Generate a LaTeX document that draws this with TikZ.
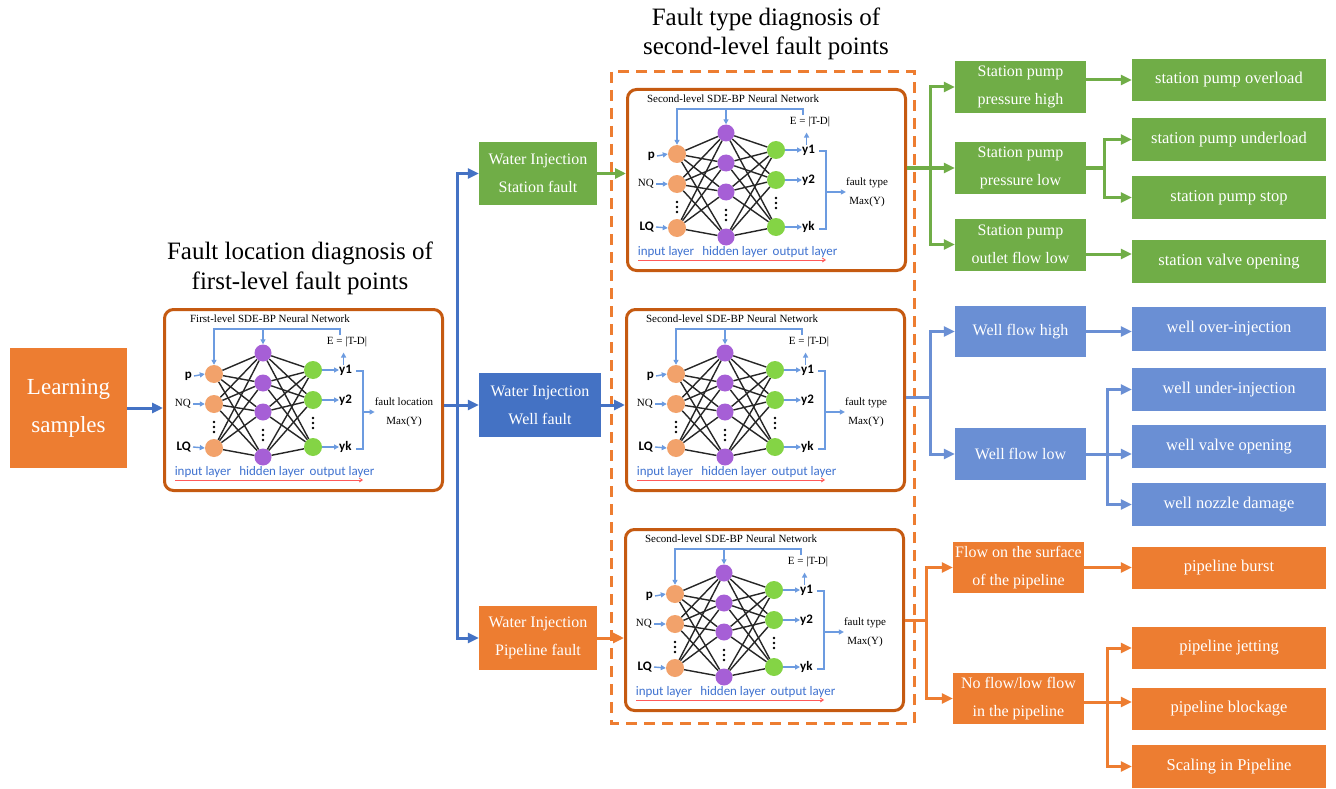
\documentclass[tikz,border=0pt]{standalone}
\usepackage{fontspec}
\setmainfont{Liberation Serif}
\newfontfamily\carl{Carlito}
\usetikzlibrary{arrows.meta}
\definecolor{cOr}{HTML}{ED7D31}
\definecolor{cGr}{HTML}{70AD47}
\definecolor{cBl}{HTML}{4472C4}
\definecolor{cLb}{HTML}{6A8FD4}
\definecolor{cBr}{HTML}{C55A11}
\definecolor{cIn}{HTML}{F2A26B}
\definecolor{cHi}{HTML}{A65FD6}
\definecolor{cOu}{HTML}{84D445}
\definecolor{cFb}{HTML}{6C9BE0}
\definecolor{cLy}{HTML}{3F72D0}
\definecolor{cRd}{HTML}{FF5A5A}
\tikzset{
  fbox/.style={fill=#1, text=white, align=center, inner sep=0pt, font=\fontsize{16}{28}\selectfont},
  rbox/.style={fill=#1, text=white, align=center, inner sep=0pt, font=\fontsize{16.5}{28}\selectfont, minimum width=194pt},
  ln/.style={draw=#1, line width=3pt},
  tip/.style={-{Triangle[length=11pt,width=10pt]}},
  tips/.style={{Triangle[length=11pt,width=10pt]}-{Triangle[length=11pt,width=10pt]}},
  nnframe/.style={draw=cBr, line width=3pt, rounded corners=9pt, fill=white},
  inn/.style={circle, inner sep=0pt, minimum size=18pt, fill=cIn},
  hid/.style={circle, inner sep=0pt, minimum size=17pt, fill=cHi},
  outn/.style={circle, inner sep=0pt, minimum size=18pt, fill=cOu},
  conn/.style={draw=black!85, line width=1.4pt},
  fb/.style={draw=cFb, line width=1.4pt},
  fbtip/.style={-{Triangle[length=5pt,width=5pt]}},
  small/.style={font=\fontsize{11}{19}\selectfont, inner sep=0pt, align=center},
  sanslab/.style={font=\carl\bfseries\fontsize{13}{15}\selectfont, inner sep=0pt},
  layer/.style={font=\carl\fontsize{13}{15}\selectfont, text=cLy, inner sep=0pt},
  pics/nn/.style 2 args={code={
    \node[nnframe, anchor=north west, minimum width=278pt, minimum height=181pt] (-box) at (0,0) {};
    \node[small] (-tt) at (107,11) {#1};
    \node[inn] (-in1) at (51,66) {};
    \node[inn] (-in2) at (51,96) {};
    \node[inn] (-in3) at (51,140) {};
    \node[hid] (-h1) at (100,45) {};
    \node[hid] (-h2) at (100,75) {};
    \node[hid] (-h3) at (100,104) {};
    \node[hid] (-h4) at (100,149) {};
    \node[outn] (-o1) at (150,62) {};
    \node[outn] (-o2) at (150,92) {};
    \node[outn] (-o3) at (150,139) {};
    \foreach \d in {-5,0,5} {
      \fill (51,119+\d) circle (1.4pt);
      \fill (100,127+\d) circle (1.4pt);
      \fill (150,115+\d) circle (1.4pt);
    }
    \foreach \i in {1,2,3} \foreach \j in {1,2,3,4} \draw[conn] (-in\i) -- (-h\j);
    \foreach \j in {1,2,3,4} \foreach \k in {1,2,3} \draw[conn] (-h\j) -- (-o\k);
    \node[sanslab, anchor=east] (-lp) at (29,68) {p};
    \node[small, anchor=east] (-lnq) at (28,96) {NQ};
    \node[sanslab, anchor=east] (-llq) at (28,139) {LQ};
    \draw[fb, fbtip] (-lp.east) ++(2pt,0) -- (-in1.west);
    \draw[fb, fbtip] (-lnq.east) ++(2pt,0) -- (-in2.west);
    \draw[fb, fbtip] (-llq.east) ++(2pt,0) -- (-in3.west);
    \node[sanslab, anchor=west] (-y1) at (176,62) {y1};
    \node[sanslab, anchor=west] (-y2) at (176,92) {y2};
    \node[sanslab, anchor=west] (-y3) at (176,139) {yk};
    \draw[fb, fbtip] (-o1.east) -- (-y1.west);
    \draw[fb, fbtip] (-o2.east) -- (-y2.west);
    \draw[fb, fbtip] (-o3.east) -- (-y3.west);
    \node[small] (-E) at (184,34) {E = |T-D|};
    \coordinate (-f1) at (177,27);
    \coordinate (-f2) at (177,21);
    \coordinate (-f3) at (51,21);
    \coordinate (-f4) at (100,21);
    \draw[fb, fbtip] (-f1) -- (-f2) -- (-f3) -- (-in1.north);
    \draw[fb, fbtip] (-f4) -- (-h1.north);
    \draw[fb, fbtip] (-y1.north) ++(-2pt,0) -- ++(0,-12);
    \coordinate (-b1) at (193,63);
    \coordinate (-b2) at (200,63);
    \coordinate (-b3) at (200,141);
    \coordinate (-b4) at (193,141);
    \coordinate (-bm) at (200,104);
    \draw[fb] (-b1) -- (-b2) -- (-b3) -- (-b4);
    \node[small] (-res) at (241,104) {#2\\Max(Y)};
    \draw[fb, fbtip] (-bm) -- (-res.west |- -bm);
    \node[layer] (-l1) at (40,164) {input layer};
    \node[layer] (-l2) at (109,164) {hidden layer};
    \node[layer] (-l3) at (179,164) {output layer};
    \coordinate (-u1) at (12,172);
    \coordinate (-u2) at (200,172);
    \draw[cRd, line width=0.9pt, -{Straight Barb[length=3pt,width=4pt]}] (-u1) -- (-u2);
  }}
}
\begin{document}
\begin{tikzpicture}[x=1pt, y=-1pt]
\useasboundingbox (0,0) rectangle (1336,789);
\fill[white] (0,0) rectangle (1336,789);

% titles
\node[align=center, font=\fontsize{25}{30}\selectfont, inner sep=0pt] (t1) at (300,268) {Fault location diagnosis of\\first-level fault points};
\node[align=center, font=\fontsize{25}{29}\selectfont, inner sep=0pt] (t2) at (766,34) {Fault type diagnosis of\\second-level fault points};

% dashed frame
\draw[cOr, line width=3pt, dash pattern=on 11pt off 7pt] (611,72) rectangle (914,723);

% learning samples
\node[fbox=cOr, minimum width=117pt, minimum height=120pt, font=\fontsize{23}{38}\selectfont] (learn) at (68.5,408) {Learning\\samples};

% networks
\pic (A) at (163,308) {nn={First-level SDE-BP Neural Network}{fault location}};
\pic (B) at (626,88) {nn={Second-level SDE-BP Neural Network}{fault type}};
\pic (C) at (625,308) {nn={Second-level SDE-BP Neural Network}{fault type}};
\pic (D) at (624,528) {nn={Second-level SDE-BP Neural Network}{fault type}};

% first-level outputs
\node[fbox=cGr, minimum width=118pt, minimum height=63pt] (ws) at (538,173.5) {Water Injection\\Station fault};
\node[fbox=cBl, minimum width=122pt, minimum height=64pt] (ww) at (540,405) {Water Injection\\Well fault};
\node[fbox=cOr, minimum width=118pt, minimum height=64pt] (wp) at (538,638) {Water Injection\\Pipeline fault};

\draw[ln=cBl, tip] (learn.east) -- (A-box.west |- learn.east);
\coordinate (j1) at (457,405);
\draw[ln=cBl, tip] (A-box.east |- ww.west) -- (ww.west);
\draw[ln=cBl, tips] (ws.west) -| (j1) |- (wp.west);

\draw[ln=cGr, tip] (ws.east) -- (B-box.west |- ws.east);
\draw[ln=cBl, tip] (ww.east) -- (C-box.west |- ww.east);
\draw[ln=cOr, tip] (wp.east) -- (D-box.west |- wp.east);

% green branch
\node[fbox=cGr, minimum width=131pt, minimum height=52pt] (g1) at (1020.5,87) {Station pump\\pressure high};
\node[fbox=cGr, minimum width=131pt, minimum height=52pt] (g2) at (1020.5,168) {Station pump\\pressure low};
\node[fbox=cGr, minimum width=131pt, minimum height=52pt] (g3) at (1020.5,244.5) {Station pump\\outlet flow low};
\node[rbox=cGr, minimum height=42pt] (r1) at (1229,80) {station pump overload};
\node[rbox=cGr, minimum height=43pt] (r2) at (1229,139.5) {station pump underload};
\node[rbox=cGr, minimum height=43pt] (r3) at (1229,197.5) {station pump stop};
\node[rbox=cGr, minimum height=43pt] (r4) at (1229,261.5) {station valve opening};
\coordinate (gj) at (930,168);
\draw[ln=cGr] (B-box.east |- gj) -- (gj);
\draw[ln=cGr, tip] (gj) -- (g2.west);
\draw[ln=cGr, tips] (g1.west) -| (gj) |- (g3.west);
\draw[ln=cGr, tip] (g1.east |- r1.west) -- (r1.west);
\coordinate (gk) at (1104,168);
\draw[ln=cGr] (g2.east) -- (gk);
\draw[ln=cGr, tips] (r2.west) -| (gk) |- (r3.west);
\coordinate (gm) at (1086,254);
\draw[ln=cGr, tip] (gm) -- (r4.west |- gm);

% blue branch
\node[fbox=cLb, minimum width=131pt, minimum height=51pt] (b1) at (1020.5,331.5) {Well flow high};
\node[fbox=cLb, minimum width=131pt, minimum height=52pt] (b2) at (1020.5,454) {Well flow low};
\node[rbox=cLb, minimum height=44pt] (s1) at (1229,329) {well over-injection};
\node[rbox=cLb, minimum height=43pt] (s2) at (1229,389.5) {well under-injection};
\node[rbox=cLb, minimum height=43pt] (s3) at (1229,446.5) {well valve opening};
\node[rbox=cLb, minimum height=43pt] (s4) at (1229,504.5) {well nozzle damage};
\coordinate (bj) at (930,397);
\draw[ln=cLb] (C-box.east |- bj) -- (bj);
\draw[ln=cLb, tips] (b1.west) -| (bj) |- (b2.west);
\draw[ln=cLb, tip] (b1.east) -- (s1.west |- b1.east);
\coordinate (bk) at (1107,454);
\draw[ln=cLb, tip] (b2.east) -- (s3.west |- b2.east);
\draw[ln=cLb, tips] (s2.west) -| (bk) |- (s4.west);

% orange branch
\node[fbox=cOr, minimum width=131pt, minimum height=51pt] (o1) at (1018.5,567.5) {Flow on the surface\\of the pipeline};
\node[fbox=cOr, minimum width=131pt, minimum height=51pt] (o2) at (1018.5,698.5) {No flow/low flow\\in the pipeline};
\node[rbox=cOr, minimum height=42pt] (p1) at (1229,568) {pipeline burst};
\node[rbox=cOr, minimum height=42pt] (p2) at (1229,648) {pipeline jetting};
\node[rbox=cOr, minimum height=42pt] (p3) at (1229,709) {pipeline blockage};
\node[rbox=cOr, minimum height=43pt] (p4) at (1229,766.5) {Scaling in Pipeline};
\coordinate (oj) at (926,620);
\draw[ln=cOr] (D-box.east |- oj) -- (oj);
\draw[ln=cOr, tips] (o1.west) -| (oj) |- (o2.west);
\draw[ln=cOr, tip] (o1.east) -- (p1.west |- o1.east);
\coordinate (ok) at (1107,702);
\draw[ln=cOr, tip] (o2.east |- ok) -- (p3.west |- ok);
\draw[ln=cOr, tips] (p2.west) -| (ok) |- (p4.west);
\end{tikzpicture}
\end{document}
